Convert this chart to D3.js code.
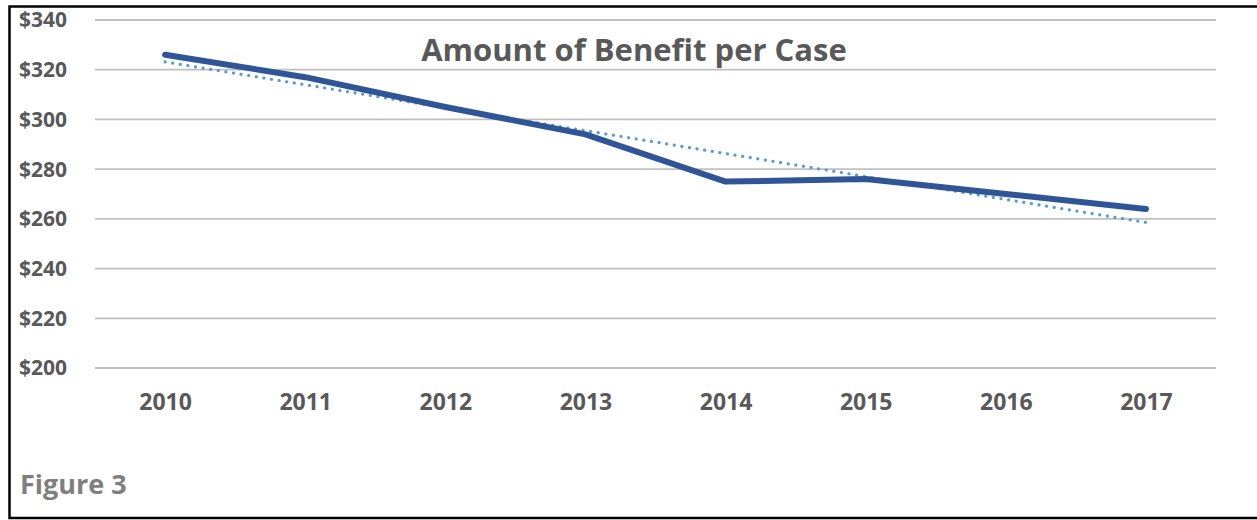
<!DOCTYPE html>
<html>
<head>
<meta charset="utf-8">
<script src="https://cdn.jsdelivr.net/npm/d3@7"></script>
<style>
  html, body { margin: 0; padding: 0; background: #fff; }
  svg { display: block; }
  text { font-family: "Open Sans", "Noto Sans", sans-serif; font-weight: 700; fill: #595959; }
</style>
</head>
<body>
<svg id="chart" width="1257" height="520"></svg>
<script>
// Average benefit paid per case, by year
const years = ["2010", "2011", "2012", "2013", "2014", "2015", "2016", "2017"];
const benefit = [326, 317, 305, 294, 275, 276, 270, 264];
const yTicks = [200, 220, 240, 260, 280, 300, 320, 340];
const chartTitle = "Amount of Benefit per Case";
const figureLabel = "Figure 3";

const svg = d3.select("#chart");
const W = 1257, H = 520;
const plot = { left: 95, right: 1216, top: 20, bottom: 368 };

// Frame: top, left and bottom rules
svg.append("path")
  .attr("d", `M${W},6.5 L9.5,6.5 L9.5,518 L${W},518`)
  .attr("fill", "none")
  .attr("stroke", "#000")
  .attr("stroke-width", 2.5);

const x = d3.scalePoint().domain(years).range([plot.left, plot.right]).padding(0.5);
const y = d3.scaleLinear().domain([200, 340]).range([plot.bottom, plot.top]);

// Horizontal gridlines
svg.append("g")
  .selectAll("line")
  .data(yTicks)
  .join("line")
  .attr("x1", plot.left).attr("x2", plot.right)
  .attr("y1", d => y(d)).attr("y2", d => y(d))
  .attr("stroke", "#c0c0c0")
  .attr("stroke-width", 1.8);

// Y axis labels
const yAxis = d3.axisLeft(y).tickValues(yTicks).tickFormat(d => "$" + d).tickSize(0).tickPadding(0);
const gy = svg.append("g").attr("transform", "translate(67,0)").call(yAxis);
gy.select(".domain").remove();
gy.selectAll("text")
  .attr("font-size", 21)
  .attr("font-family", null)
  .attr("dy", "0.33em");

// X axis labels
const xAxis = d3.axisBottom(x).tickSize(0).tickPadding(0);
const gx = svg.append("g").attr("transform", "translate(0,394)").call(xAxis);
gx.select(".domain").remove();
gx.selectAll("text")
  .attr("font-size", 23)
  .attr("font-family", null)
  .attr("dy", "0.71em");

// Least-squares linear trend through the series
const idx = benefit.map((_, i) => i);
const mx = d3.mean(idx), my = d3.mean(benefit);
const slope = d3.sum(idx, i => (i - mx) * (benefit[i] - my)) / d3.sum(idx, i => (i - mx) ** 2);
const trend = idx.map(i => my + slope * (i - mx));

const line = d3.line()
  .x((d, i) => x(years[i]))
  .y(d => y(d));

svg.append("path")
  .datum([trend[0], trend[trend.length - 1]])
  .attr("d", d3.line().x((d, i) => x(years[i === 0 ? 0 : years.length - 1])).y(d => y(d)))
  .attr("fill", "none")
  .attr("stroke", "#5b9bd5")
  .attr("stroke-width", 3.2)
  .attr("stroke-linecap", "round")
  .attr("stroke-dasharray", "0.1 7.6");

svg.append("path")
  .datum(benefit)
  .attr("d", line)
  .attr("fill", "none")
  .attr("stroke", "#2f5597")
  .attr("stroke-width", 6)
  .attr("stroke-linecap", "round")
  .attr("stroke-linejoin", "round");

// Title and figure caption
svg.append("text")
  .attr("x", 634).attr("y", 61)
  .attr("text-anchor", "middle")
  .attr("font-size", 31)
  .text(chartTitle);

svg.append("text")
  .attr("x", 20).attr("y", 494)
  .attr("font-size", 27)
  .style("fill", "#7f7f7f")
  .text(figureLabel);
</script>
</body>
</html>
